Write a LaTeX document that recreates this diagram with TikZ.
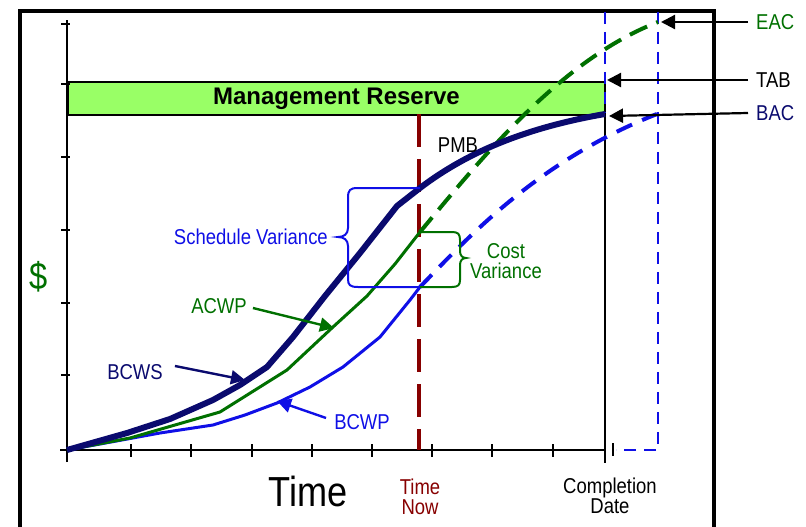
\documentclass[tikz,border=0pt]{standalone}
\usepackage{fontspec}
\setmainfont{Liberation Sans}[FakeStretch=0.86]
\newfontfamily\mrfont{Liberation Sans}
\usetikzlibrary{arrows.meta}
\definecolor{navyc}{RGB}{10,10,110}
\definecolor{greenc}{RGB}{0,112,0}
\definecolor{bluec}{RGB}{15,15,230}
\definecolor{redc}{RGB}{135,0,0}
\definecolor{mrgreen}{RGB}{153,255,102}
\tikzset{
  lbl/.style={inner sep=0pt, font=\fontsize{21.5}{21}\selectfont},
  twoline/.style={inner sep=0pt, align=center, font=\fontsize{21.5}{20}\selectfont},
  ptr/.style={line width=2.4pt, -{Triangle[length=14pt,width=14pt]}},
  bigptr/.style={line width=2.2pt, -{Triangle[length=14pt,width=14pt]}},
  axisline/.style={line width=2.5pt},
  tickline/.style={line width=2pt},
  bluedash/.style={bluec, line width=2.5pt, dash pattern=on 12pt off 8pt},
}
\begin{document}
\begin{tikzpicture}[x=1pt,y=-1pt]
\useasboundingbox (0,0) rectangle (806,527);
% outer frame
\draw[line width=4pt] (20,530) -- (20,11) -- (714,11) -- (714,530);

% management reserve box
\node[draw=black, line width=2pt, fill=mrgreen, minimum width=537pt, minimum height=33pt, inner sep=0pt,
      font=\mrfont\bfseries\fontsize{24}{24}\selectfont] (mr) at (336.5,98.5) {Management Reserve};

% blue dashed EAC window
\coordinate (w1) at (605,12);
\coordinate (w2) at (605,450);
\coordinate (w3) at (658,12);
\coordinate (w4) at (658,450);
\coordinate (w5) at (616,450);
\draw[bluedash] (w1) -- (w2);
\draw[bluedash] (w3) -- (w4) -- (w5);

% axes
\coordinate (o) at (67,450);
\coordinate (ytop) at (67,20);
\coordinate (ybot) at (67,462);
\coordinate (xl) at (60,450);
\coordinate (xr) at (605,450);
\draw[axisline] (ybot) -- (ytop);
\draw[axisline] (xl) -- (xr);
\foreach \y in {24,84,157,230,303,375} \draw[tickline] (61,\y) -- (70,\y);
\foreach \x in {131,191,252,312,372,432,492,553} \draw[tickline] (\x,444) -- (\x,457);
\draw[tickline] (613,443) -- (613,456);
% completion line
\coordinate (c1) at (605,113);
\coordinate (c2) at (605,463);
\draw[line width=2pt] (c1) -- (c2);

% time now line
\coordinate (tn1) at (419,114);
\coordinate (tn2) at (419,450);
\draw[redc, line width=4pt, dash pattern=on 33pt off 12pt] (tn1) -- (tn2);

% curves
\coordinate (bac) at (605,114);
\coordinate (eac) at (658,22);
\coordinate (acwpnow) at (420,232);
\coordinate (bcwpnow) at (420,287);
\coordinate (bcwsnow) at (420,188);
\coordinate (bcwpend) at (657,114);

\draw[bluec, line width=3pt, line join=round] (o) -- (100,444) -- (160,433) -- (213,425) -- (245,415) -- (277,403) -- (310,387) -- (343,367) -- (380,337) -- (410,300) -- (bcwpnow);
\draw[bluec, line width=4pt, dash pattern=on 17pt off 11pt] (bcwpnow) .. controls (470,235) and (540,160) .. (bcwpend);

\draw[greenc, line width=3pt, line join=round] (o) -- (130,438) -- (220,412) -- (287,370) -- (333,327) -- (367,296) -- (395,264) -- (acwpnow);
\draw[greenc, line width=4pt, dash pattern=on 19pt off 10pt] (acwpnow) .. controls (480,160) and (560,60) .. (eac);

\draw[navyc, line width=6pt, line join=round] (o) -- (127,433) -- (170,419) -- (213,400) -- (240,385) -- (267,367) -- (293,337) -- (325,296) -- (360,253) -- (397,206) -- (bcwsnow) .. controls (470,150) and (530,127) .. (bac);

% variance braces
\draw[bluec, line width=2pt] (bcwsnow) -- (358,188) .. controls (350,188) and (348,190) .. (348,198) -- (348,228)
  .. controls (348,234) and (344,237) .. (338,237) .. controls (344,237) and (348,240) .. (348,246)
  -- (348,279) .. controls (348,285) and (350,287) .. (358,287) -- (bcwpnow);
\draw[greenc, line width=2pt] (acwpnow) -- (452,232) .. controls (458,232) and (460,234) .. (460,240) -- (460,251)
  .. controls (460,255) and (462,258) .. (466,258) .. controls (462,258) and (460,261) .. (460,265)
  -- (460,280) .. controls (460,285) and (458,287) .. (452,287) -- (bcwpnow);

% labels
\node[lbl, bluec, anchor=east] (sv) at (328,237) {Schedule Variance};
\node[twoline, greenc] (cv) at (506,261) {Cost\\Variance};
\node[lbl, black] (pmb) at (458,145) {PMB};

\node[lbl, greenc] (acwp) at (219,306) {ACWP};
\node[lbl, navyc] (bcws) at (135,372) {BCWS};
\node[lbl, bluec] (bcwp) at (362,422) {BCWP};
\coordinate (acwptip) at (334,328);
\coordinate (bcwstip) at (245,380);
\coordinate (bcwptip) at (277,401);
\draw[ptr, greenc] (acwp.east) ++(6,2) coordinate (acwpfrom) (acwpfrom) -- (acwptip);
\draw[ptr, navyc] (bcws.east) ++(12,-6) coordinate (bcwsfrom) (bcwsfrom) -- (bcwstip);
\draw[ptr, bluec] (bcwp.west) ++(-8,-4) coordinate (bcwpfrom) (bcwpfrom) -- (bcwptip);

% right labels
\node[lbl, greenc, anchor=west] (eacl) at (756,22) {EAC};
\node[lbl, black, anchor=west] (tabl) at (756,80) {TAB};
\node[lbl, navyc, anchor=west] (bacl) at (756,113) {BAC};
\coordinate (eactip) at (661,22);
\coordinate (tabtip) at (607,80);
\coordinate (bactip) at (609,116);
\draw[bigptr] (eacl.west) ++(-8,0) coordinate (eacfrom) (eacfrom) -- (eactip);
\draw[bigptr] (tabl.west) ++(-8,0) coordinate (tabfrom) (tabfrom) -- (tabtip);
\draw[bigptr] (bacl.west) ++(-8,0) coordinate (bacfrom) (bacfrom) -- (bactip);

% axis labels
\node[inner sep=0pt, greenc, font=\fontsize{38}{38}\selectfont] (dollar) at (39,277) {\$};
\node[inner sep=0pt, black, font=\fontsize{42}{42}\selectfont] (time) at (308,491) {Time};
\node[twoline, redc] (tnow) at (420,497) {Time\\Now};
\node[twoline, black] (cdate) at (610,496) {Completion\\Date};
\end{tikzpicture}
\end{document}
